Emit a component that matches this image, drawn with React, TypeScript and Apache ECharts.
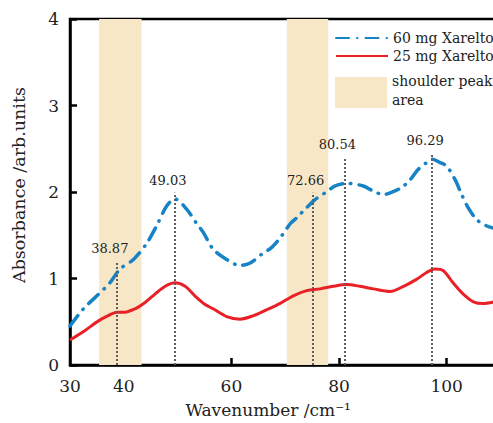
import React, { useEffect, useRef } from "react";
import * as echarts from "echarts";

const xTickLabels = [30, 40, 60, 80, 100];
const xTicks = [40, 60, 80, 100];

const blueX = [30.0, 32.5, 35.0, 37.4, 39.3, 41.8, 44.3, 46.1, 48.0, 49.5, 51.7, 53.5, 54.8, 56.6, 59.1, 61.6, 63.5, 65.6, 67.5, 69.3, 70.9, 72.1, 74.0, 75.5, 77.4, 79.3, 81.4, 84.5, 86.4, 88.2, 89.5, 91.6, 93.2, 94.7, 96.3, 97.4, 98.8, 100.0, 101.6, 102.8, 104.0, 105.6, 107.4, 109.5];
const blueY = [0.45, 0.65, 0.8, 0.95, 1.11, 1.22, 1.41, 1.61, 1.84, 1.92, 1.8, 1.64, 1.53, 1.34, 1.22, 1.15, 1.18, 1.28, 1.36, 1.49, 1.63, 1.7, 1.82, 1.91, 1.99, 2.07, 2.1, 2.07, 2.01, 1.97, 1.99, 2.05, 2.14, 2.26, 2.34, 2.38, 2.34, 2.3, 2.14, 1.97, 1.82, 1.68, 1.61, 1.57];

const redX = [30.0, 32.8, 35.3, 37.1, 38.7, 40.2, 42.1, 43.9, 45.8, 47.7, 49.5, 51.4, 53.2, 55.1, 56.6, 59.1, 61.6, 64.1, 66.6, 69.0, 71.5, 74.0, 76.5, 78.9, 81.4, 83.9, 86.4, 89.5, 92.0, 94.4, 96.3, 97.8, 99.4, 101.2, 103.1, 105.0, 106.8, 109.5];
const redY = [0.29, 0.4, 0.51, 0.57, 0.61, 0.61, 0.65, 0.72, 0.82, 0.91, 0.95, 0.91, 0.8, 0.7, 0.65, 0.56, 0.53, 0.57, 0.64, 0.71, 0.8, 0.86, 0.88, 0.91, 0.93, 0.91, 0.88, 0.85, 0.91, 0.99, 1.07, 1.11, 1.09, 0.95, 0.82, 0.73, 0.71, 0.74];

const peakLabels = ["38.87", "49.03", "72.66", "80.54", "96.29"];
const peakX = [38.7, 49.5, 75.1, 81.0, 97.3];
const peakTop = [1.2, 1.99, 1.99, 2.4, 2.45];

const bandStart = [35.4, 70.3];
const bandEnd = [43.3, 78.0];

const seriesNames = ["60 mg Xarelto", "25 mg Xarelto"];
const areaName = "shoulder peak\narea";

const FONT = "DejaVu Serif";

export default function App() {
  const ref = useRef<HTMLDivElement>(null);
  useEffect(() => {
    if (!ref.current) return;
    const chart = echarts.init(ref.current, null, { renderer: "svg" });
    const blueData = blueX.map((x, i) => [x, blueY[i]]);
    const redData = redX.map((x, i) => [x, redY[i]]);
    const markLines = peakX.map((x, i) => [
      { coord: [x, 0], name: peakLabels[i] },
      { coord: [x, peakTop[i]] },
    ]);
    const areas = bandStart.map((s, i) => [{ xAxis: s }, { xAxis: bandEnd[i] }]);
    chart.setOption({
      animation: false,
      backgroundColor: "#fff",
      grid: {
        left: 70,
        top: 19,
        height: 347,
        width: 430.4,
        show: true,
        borderColor: "#000",
        borderWidth: 2.5,
        backgroundColor: "transparent",
      },
      legend: {
        data: seriesNames,
        orient: "vertical",
        left: 335,
        top: 31,
        padding: 0,
        itemWidth: 52,
        itemHeight: 10,
        itemGap: 4,
        itemStyle: { color: "transparent", borderWidth: 0, opacity: 0 },
        textStyle: { fontFamily: FONT, fontSize: 14, color: "#222" },
      },
      xAxis: {
        type: "value",
        min: 30,
        max: 110,
        name: "Wavenumber /cm⁻¹",
        nameLocation: "middle",
        nameGap: 36,
        nameTextStyle: { fontFamily: FONT, fontSize: 17, color: "#222", padding: [0, 34, 0, 0] },
        axisLine: { show: true, lineStyle: { color: "#000", width: 2.5 } },
        axisTick: { show: true, inside: true, length: 7, lineStyle: { width: 2.5, color: "#000" }, customValues: xTicks },
        axisLabel: { margin: 12, fontFamily: FONT, fontSize: 17, color: "#222", customValues: xTickLabels },
        splitLine: { show: false },
      },
      yAxis: {
        type: "value",
        min: 0,
        max: 4,
        interval: 1,
        name: "Absorbance /arb.units",
        nameLocation: "middle",
        nameGap: 42,
        nameTextStyle: { fontFamily: FONT, fontSize: 17.5, color: "#222", padding: [0, 0, 0, 14] },
        axisLine: { show: true, lineStyle: { color: "#000", width: 2.5 } },
        axisTick: { show: true, inside: true, length: 7, lineStyle: { width: 2.5, color: "#000" } },
        axisLabel: { margin: 11, fontFamily: FONT, fontSize: 17, color: "#222" },
        splitLine: { show: false },
      },
      graphic: [
        {
          type: "rect",
          shape: { x: 335, y: 77, width: 52, height: 31 },
          style: { fill: "#f7e7c6" },
          z: 100,
        },
        {
          type: "text",
          x: 392,
          y: 71,
          style: {
            text: areaName,
            font: `14px '${FONT}'`,
            fill: "#222",
            lineHeight: 19,
          },
          z: 100,
        },
      ],
      series: [
        {
          name: "bands",
          type: "line",
          data: [],
          z: 1,
          silent: true,
          markArea: {
            silent: true,
            itemStyle: { color: "#f7e7c6" },
            data: areas,
          },
        },
        {
          name: seriesNames[0],
          type: "line",
          data: blueData,
          smooth: 0.3,
          symbol: "none",
          z: 3,
          color: "#1683c6",
          lineStyle: { color: "#1683c6", width: 3.5, type: [13, 8, 0.5, 8], cap: "round" },
        },
        {
          name: seriesNames[1],
          type: "line",
          data: redData,
          smooth: 0.3,
          symbol: "none",
          z: 4,
          color: "#ea2027",
          lineStyle: { color: "#ea2027", width: 3 },
          markLine: {
            silent: true,
            symbol: ["none", "none"],
            lineStyle: { color: "#5e5e5e", width: 2, type: [2, 2] },
            label: {
              show: true,
              position: "end",
              distance: 6,
              formatter: "{b}",
              offset: [-7, 0],
              fontFamily: FONT,
              fontSize: 13,
              color: "#222",
            },
            data: markLines,
          },
        },
      ],
    });
    return () => chart.dispose();
  }, []);
  return (
    <div style={{ position: "fixed", left: 0, top: 0, width: 493, height: 423, overflow: "hidden", background: "#fff" }}>
      <div ref={ref} style={{ width: 560, height: 423 }} />
    </div>
  );
}
